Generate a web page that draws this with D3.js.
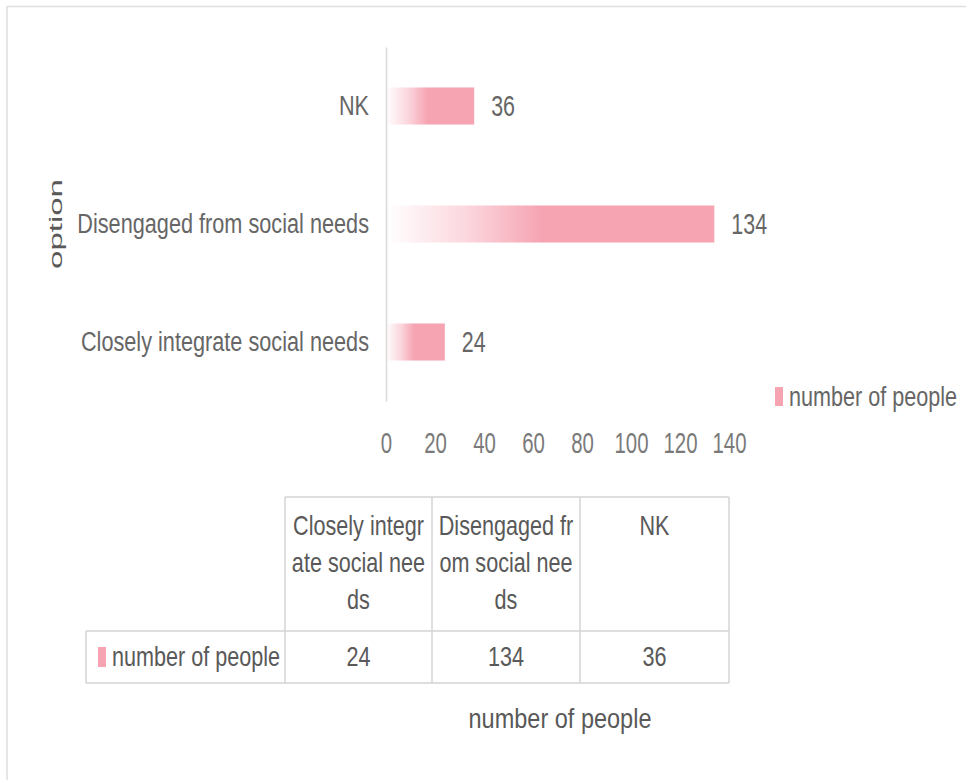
<!DOCTYPE html>
<html>
<head>
<meta charset="utf-8">
<script src="https://cdn.jsdelivr.net/npm/d3@7/dist/d3.min.js"></script>
<style>
  html, body { margin: 0; padding: 0; background: #fff; }
  svg { display: block; }
  text { font-family: "Liberation Sans", Arial, sans-serif; }
</style>
</head>
<body>
<svg id="chart" width="966" height="780"></svg>
<script>
// Survey responses: number of people per option
const categories = ["Closely integrate social needs", "Disengaged from social needs", "NK"];
const values = [24, 134, 36];
const headerLines = [
  ["Closely integr", "ate social nee", "ds"],
  ["Disengaged fr", "om social nee", "ds"],
  ["NK"]
];
const xTicks = [0, 20, 40, 60, 80, 100, 120, 140];
const seriesName = "number of people";
const yTitle = "option";

const pink = "#f6a3b2";
const textGray = "#666666";
const darkGray = "#595959";
const lineGray = "#d9d9d9";

// squeeze text horizontally around its anchor x to mimic a narrow face
function condense(sel, k) {
  sel.each(function () {
    const x0 = +this.getAttribute("x") || 0;
    this.setAttribute("transform", `translate(${(x0 * (1 - k)).toFixed(2)},0) scale(${k},1)`);
  });
}

const svg = d3.select("#chart");

// outer frame
svg.append("path")
  .attr("d", "M7,780 V6.5 H966")
  .attr("fill", "none")
  .attr("stroke", "#dedede")
  .attr("stroke-width", 1.5);

const x = d3.scaleLinear().domain([0, 140]).range([386, 729]);
// top-to-bottom order is reversed, as in a horizontal bar chart
const y = d3.scaleBand()
  .domain(categories.slice().reverse())
  .range([47, 401])
  .paddingInner(0.686)
  .paddingOuter(0.343);

const defs = svg.append("defs");
const grad = defs.append("linearGradient")
  .attr("id", "barFill")
  .attr("x1", "0").attr("x2", "1").attr("y1", "0").attr("y2", "0");
grad.append("stop").attr("offset", "0").attr("stop-color", "#ffffff");
grad.append("stop").attr("offset", "0.25").attr("stop-color", "#fbd6dd");
grad.append("stop").attr("offset", "0.48").attr("stop-color", pink);
grad.append("stop").attr("offset", "1").attr("stop-color", pink);

const data = categories.map((c, i) => ({ c, v: values[i] }));

// bars
svg.append("g").selectAll("rect")
  .data(data)
  .join("rect")
  .attr("x", x(0))
  .attr("y", d => y(d.c))
  .attr("width", d => x(d.v) - x(0))
  .attr("height", y.bandwidth())
  .attr("fill", "url(#barFill)");

// value labels
svg.append("g").selectAll("text")
  .data(data)
  .join("text")
  .attr("x", d => x(d.v) + 17)
  .attr("y", d => y(d.c) + y.bandwidth() / 2)
  .attr("dy", "0.35em")
  .attr("font-size", 29)
  .attr("fill", textGray)
  .text(d => d.v)
  .call(condense, 0.74);

// category axis
const yAxis = svg.append("g")
  .attr("transform", `translate(${x(0)},0)`)
  .call(d3.axisLeft(y).tickSize(0).tickPadding(17));
yAxis.select(".domain").attr("stroke", lineGray).attr("stroke-width", 1.5);
yAxis.selectAll("text")
  .attr("font-size", 28).attr("fill", textGray)
  .attr("font-family", null)
  .call(condense, 0.775);

// value axis (labels only)
const xAxis = svg.append("g")
  .attr("transform", "translate(0,432)")
  .call(d3.axisBottom(x).tickValues(xTicks).tickSize(0).tickPadding(0));
xAxis.select(".domain").remove();
xAxis.selectAll("text")
  .attr("font-size", 30).attr("fill", "#7a7a7a")
  .attr("font-family", null)
  .call(condense, 0.68);

// y title
svg.append("text")
  .attr("transform", "translate(56,224) scale(0.54,1) rotate(-90)")
  .attr("text-anchor", "middle")
  .attr("dy", "0.35em")
  .attr("font-family", "'DejaVu Sans', sans-serif")
  .attr("font-size", 33)
  .attr("fill", darkGray)
  .text(yTitle);

// legend
svg.append("rect")
  .attr("x", 775).attr("y", 387).attr("width", 8).attr("height", 19)
  .attr("fill", pink);
svg.append("text")
  .attr("x", 789).attr("y", 397).attr("dy", "0.35em")
  .attr("font-size", 27).attr("fill", textGray)
  .text(seriesName)
  .call(condense, 0.8);

// data table
const colEdges = [86, 285, 432, 580, 729];
const headTop = 497, headBottom = 631, rowBottom = 683;
const tbl = svg.append("g");
const tStroke = "#d4d4d4";

// header row borders (no top-left cell)
tbl.append("path")
  .attr("d", `M${colEdges[1]},${headTop} H${colEdges[4]}`)
  .attr("stroke", tStroke).attr("stroke-width", 1.5);
tbl.append("path")
  .attr("d", `M${colEdges[0]},${headBottom} H${colEdges[4]} M${colEdges[0]},${rowBottom} H${colEdges[4]}`)
  .attr("stroke", tStroke).attr("stroke-width", 1.5);
tbl.selectAll("line.v")
  .data(colEdges)
  .join("line")
  .attr("class", "v")
  .attr("x1", d => d).attr("x2", d => d)
  .attr("y1", (d, i) => i === 0 ? headBottom : headTop)
  .attr("y2", rowBottom)
  .attr("stroke", tStroke).attr("stroke-width", 1.5);

// header text, one element per wrapped line
headerLines.forEach((lines, i) => {
  const cx = (colEdges[i + 1] + colEdges[i + 2]) / 2;
  tbl.append("g").selectAll("text")
    .data(lines)
    .join("text")
    .attr("x", cx)
    .attr("y", (d, j) => 535 + j * 37)
    .attr("text-anchor", "middle")
    .attr("font-size", 27).attr("fill", darkGray)
    .text(d => d)
    .call(condense, 0.8);
});

// row label with legend key
tbl.append("rect")
  .attr("x", 98).attr("y", 647).attr("width", 8).attr("height", 20)
  .attr("fill", pink);
tbl.append("text")
  .attr("x", 112).attr("y", 657).attr("dy", "0.35em")
  .attr("font-size", 27).attr("fill", darkGray)
  .text(seriesName)
  .call(condense, 0.8);

// row values
tbl.selectAll("text.val")
  .data(values)
  .join("text")
  .attr("class", "val")
  .attr("x", (d, i) => (colEdges[i + 1] + colEdges[i + 2]) / 2)
  .attr("y", 657).attr("dy", "0.35em")
  .attr("text-anchor", "middle")
  .attr("font-size", 27).attr("fill", darkGray)
  .text(d => d)
  .call(condense, 0.8);

// axis title under the table
svg.append("text")
  .attr("x", 560).attr("y", 718).attr("dy", "0.35em")
  .attr("text-anchor", "middle")
  .attr("font-size", 28).attr("fill", darkGray)
  .text(seriesName)
  .call(condense, 0.84);
</script>
</body>
</html>
